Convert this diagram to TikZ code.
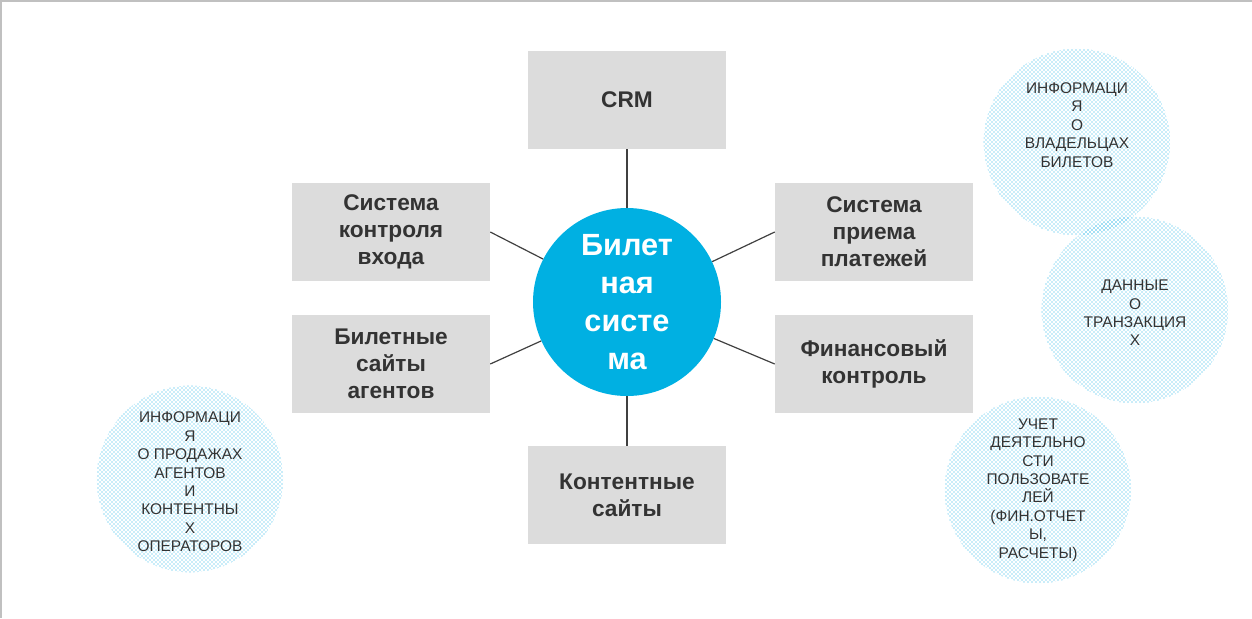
\documentclass[tikz,border=0pt]{standalone}
\usepackage{fontspec}
\setmainfont{Liberation Sans}
\usepackage{xcolor}
\usepackage{tikz}
\usetikzlibrary{patterns}

\definecolor{boxgray}{HTML}{DCDCDC}
\definecolor{txtgray}{HTML}{333333}
\definecolor{biletblue}{HTML}{00B0E2}
\definecolor{dotblue}{HTML}{1AB0E6}
\definecolor{framegray}{HTML}{C0C0C0}
\definecolor{linegray}{HTML}{404040}

\tikzset{
  sysbox/.style={fill=boxgray, minimum width=148.5pt, minimum height=73.5pt,
    inner sep=0pt, align=center, text=txtgray,
    font=\fontsize{17}{20.3}\selectfont\bfseries},
  infocircle/.style={circle, pattern=crosshatch dots, pattern color=dotblue,
    minimum size=140pt, inner sep=0pt},
  infotext/.style={align=center, text=txtgray, inner sep=0pt,
    font=\fontsize{11.6}{13.8}\selectfont},
  link/.style={draw=linegray, line width=0.9pt}
}

\begin{document}
\begin{tikzpicture}[x=0.75pt,y=-0.75pt]
        %рамка
        \useasboundingbox (0,0) rectangle (1252,618);
        \draw[framegray, line width=2.25pt] (0,618) -- (0,0) -- (1252,0);
        %центр
        \node[circle, fill=biletblue, minimum size=141pt, inner sep=0pt,
              text=white, align=center,
              font=\fontsize{23}{28.5}\selectfont\bfseries]
              (bilet) at (627,302) {Билет\\ная\\систе\\ма};
        %системы
        \node[sysbox] (crm) at (627,100) {CRM};
        \node[sysbox] (ctrl) at (391,232) {Система\\контроля\\входа};
        \node[sysbox] (pay) at (874,232) {Система\\приема\\платежей};
        \node[sysbox] (agent) at (391,364) {Билетные\\сайты\\агентов};
        \node[sysbox] (fin) at (874,364) {Финансовый\\контроль};
        \node[sysbox] (content) at (627,495) {Контентные\\сайты};
        %связи
        \foreach \b in {crm, content, ctrl.east, agent.east, pay.west, fin.west}
                \draw[link] (\b) -- (bilet);
        %данные
        \node[infocircle] (ownc) at (1077,142) {};
        \node[infotext] (ownt) at (1077,125)
              {ИНФОРМАЦИ\\Я\\О\\ВЛАДЕЛЬЦАХ\\БИЛЕТОВ};
        \node[infocircle] (trc) at (1135,310) {};
        \node[infotext] (trt) at (1135,313)
              {ДАННЫЕ\\О\\ТРАНЗАКЦИЯ\\Х};
        \node[infocircle] (usc) at (1038,490) {};
        \node[infotext] (ust) at (1038,490)
              {УЧЕТ\\ДЕЯТЕЛЬНО\\СТИ\\ПОЛЬЗОВАТЕ\\ЛЕЙ\\(ФИН.ОТЧЕТ\\Ы,\\РАСЧЕТЫ)};
        \node[infocircle] (agc) at (190,479) {};
        \node[infotext] (agt) at (190,482)
              {ИНФОРМАЦИ\\Я\\О ПРОДАЖАХ\\АГЕНТОВ\\И\\КОНТЕНТНЫ\\Х\\ОПЕРАТОРОВ};
\end{tikzpicture}
\end{document}
